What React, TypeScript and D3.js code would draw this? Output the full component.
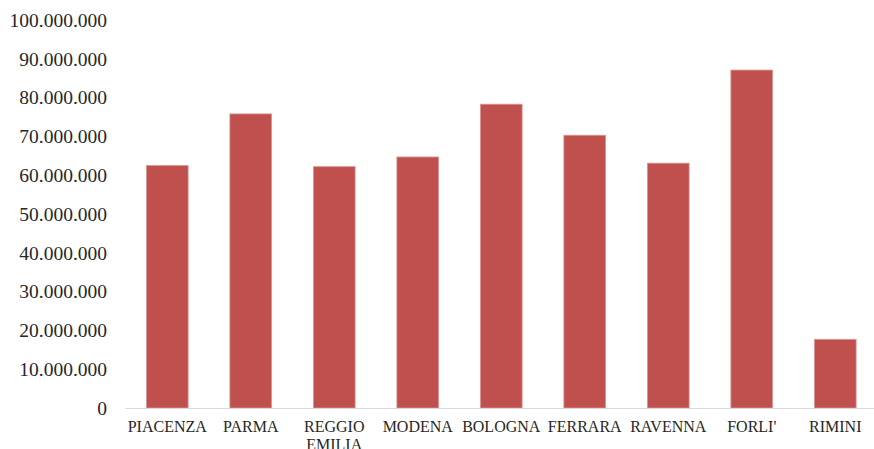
import React from "react";
import * as d3 from "d3";

const categories = ["PIACENZA", "PARMA", "REGGIO EMILIA", "MODENA", "BOLOGNA", "FERRARA", "RAVENNA", "FORLI'", "RIMINI"];
const values = [62500000, 75800000, 62200000, 64700000, 78300000, 70300000, 63100000, 87100000, 17700000];
const yTicks = [0, 10000000, 20000000, 30000000, 40000000, 50000000, 60000000, 70000000, 80000000, 90000000, 100000000];

const W = 874;
const H = 449;
const left = 125.5;
const right = 877;
const top = 20;
const bottom = 408;

const fmt = (v: number) => (v === 0 ? "0" : d3.format(",")(v).replace(/,/g, "."));

export default function App() {
  const x = d3.scaleBand<string>().domain(categories).range([left, right]).paddingInner(0.5).paddingOuter(0.25);
  const y = d3.scaleLinear().domain([0, 100000000]).range([bottom, top]);
  const font = "'Liberation Serif', 'Times New Roman', serif";
  return (
    <svg width={W} height={H} style={{ position: "absolute", left: 0, top: 0, background: "#fff" }}>
      {yTicks.map((t) => (
        <text key={t} x={107} y={y(t)} dy="0.35em" textAnchor="end" fontFamily={font} fontSize={19.5} fill="#262626">
          {fmt(t)}
        </text>
      ))}
      {categories.map((c, i) => (
        <rect
          key={c}
          x={x(c)!}
          y={y(values[i])}
          width={x.bandwidth()}
          height={bottom - y(values[i])}
          fill="#C0504D"
          stroke="#D99795"
          strokeWidth={0.8}
        />
      ))}
      <line x1={left} x2={W} y1={bottom + 0.5} y2={bottom + 0.5} stroke="#D9D9D9" strokeWidth={1} />
      {categories.map((c) => {
        const words = c === "REGGIO EMILIA" ? ["REGGIO", "EMILIA"] : [c];
        return (
          <text key={c} x={x(c)! + x.bandwidth() / 2} y={432} textAnchor="middle" fontFamily={font} fontSize={16} fill="#262626">
            {words.map((w, j) => (
              <tspan key={w} x={x(c)! + x.bandwidth() / 2} dy={j === 0 ? 0 : 18.3}>
                {w}
              </tspan>
            ))}
          </text>
        );
      })}
    </svg>
  );
}
